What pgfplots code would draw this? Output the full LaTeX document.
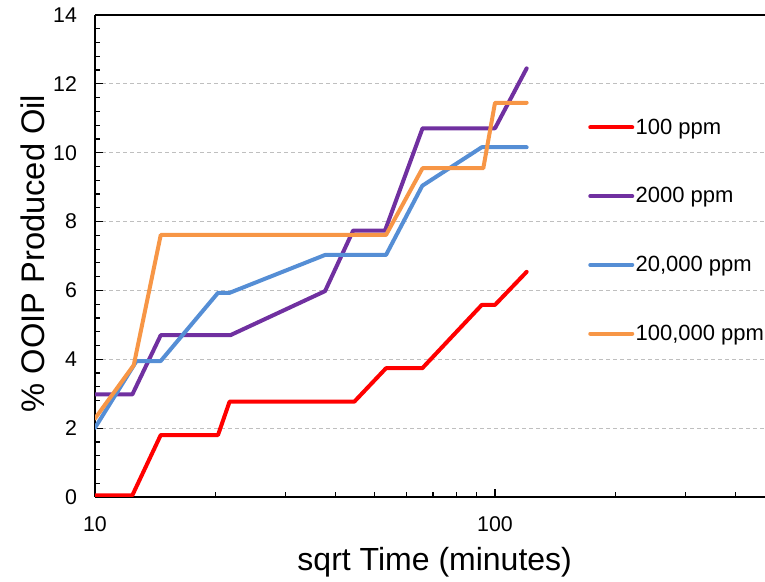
\documentclass[border=0pt]{standalone}
\usepackage{pgfplots}
\pgfplotsset{compat=1.18}
\usepackage{fontspec}
\setmainfont{Liberation Sans}
\definecolor{cred}{HTML}{FF0000}
\definecolor{cpurple}{HTML}{7030A0}
\definecolor{cblue}{HTML}{558ED5}
\definecolor{corange}{HTML}{F79646}
\definecolor{gridgray}{HTML}{BFBFBF}
\begin{document}
\begin{tikzpicture}
\path[use as bounding box] (-71.25pt,-63.75pt) rectangle (502.5pt,372.75pt);
\begin{axis}[
  at={(0pt,0pt)}, anchor=south west,
  scale only axis,
  width=502.5pt, height=361.5pt,
  xmode=log, xmin=10, xmax=473.2,
  ymin=0, ymax=14,
  axis x line*=box, axis y line*=left,
  axis line style={line width=1.1pt, black},
  xtick={10,100}, xticklabels={10,100},
  minor xtick={20,30,40,50,60,70,80,90,200,300,400},
  ytick={0,2,4,6,8,10,12,14},
  minor ytick={0.4,0.8,1.2,1.6,2.4,2.8,3.2,3.6,4.4,4.8,5.2,5.6,6.4,6.8,7.2,7.6,8.4,8.8,9.2,9.6,10.4,10.8,11.2,11.6,12.4,12.8,13.2,13.6},
  xtick pos=bottom, ytick pos=left,
  tick align=inside,
  major tick length=6pt, minor tick length=3.75pt,
  every tick/.style={black, line width=0.9pt},
  ymajorgrids,
  major grid style={gridgray, line width=0.75pt, dash pattern=on 3pt off 2.25pt},
  tick label style={font=\fontsize{16}{18}\selectfont, black},
  /pgf/number format/assume math mode=true,
  yticklabel style={xshift=-10pt},
  xticklabel style={yshift=-11pt},
  every axis y label/.style={at={(axis description cs:-0.0925,0.505)}, rotate=90, anchor=center, font=\fontsize{24.5}{28}\selectfont},
  every axis x label/.style={at={(axis description cs:0.507,-0.135)}, anchor=center, font=\fontsize{24}{28}\selectfont},
  ylabel={\% OOIP Produced Oil},
  xlabel={sqrt Time (minutes)},
  legend style={at={(axis description cs:0.7358,0.788)}, anchor=north west, draw=none, fill=none,
    font=\fontsize{16.5}{19}\selectfont, inner sep=0pt, row sep=36.5pt,
    nodes={inner sep=1pt}},
  legend cell align=left,
  legend image code/.code={\draw[#1, line width=3pt] (0pt,0pt) -- (31.5pt,0pt);},
  every axis plot/.append style={line width=3pt, line cap=round, line join=round},
]
\addplot[cred] coordinates {
(10,0.05) (12.4,0.05) (14.6,1.80) (20.3,1.80) (21.7,2.77) (44.5,2.77) (53.4,3.74) (65.8,3.74) (92.7,5.58) (100,5.58) (120,6.54)};
\addlegendentry{100 ppm}
\addplot[cpurple] coordinates {
(10,2.98) (12.4,2.98) (14.6,4.70) (21.8,4.70) (37.6,5.98) (44.2,7.74) (53.1,7.74) (65.9,10.71) (100,10.71) (120,12.45)};
\addlegendentry{2000 ppm}
\addplot[cblue] coordinates {
(10,2.01) (12.7,3.95) (14.6,3.95) (20.3,5.93) (21.7,5.93) (37.6,7.03) (53.4,7.03) (65.8,9.04) (92.7,10.16) (120,10.16)};
\addlegendentry{20,000 ppm}
\addplot[corange] coordinates {
(10,2.28) (12.5,3.83) (14.6,7.61) (53.4,7.61) (65.9,9.55) (93.5,9.55) (100,11.45) (120,11.45)};
\addlegendentry{100,000 ppm}
\end{axis}
\end{tikzpicture}
\end{document}
